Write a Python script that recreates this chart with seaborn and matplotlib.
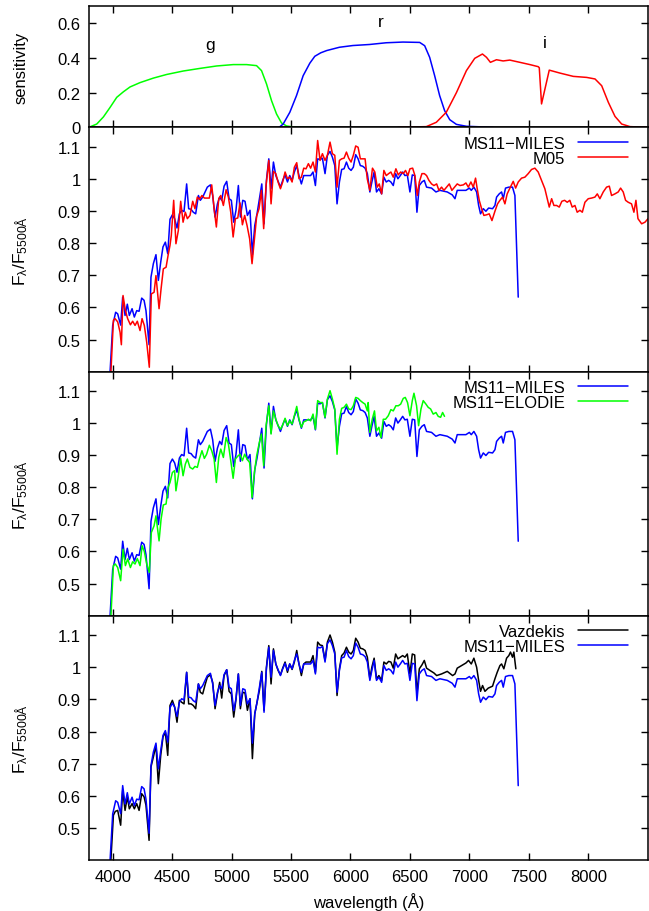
import matplotlib
matplotlib.use("Agg")
import matplotlib.pyplot as plt
import seaborn as sns

# filter curves (top panel)
g_wl = [3800, 3866, 3922, 3978, 4034, 4090, 4146, 4230, 4342, 4454, 4594, 4734, 4874, 5014, 5126,
        5210, 5252, 5294, 5336, 5378, 5420, 5462, 5518, 5700]
g_sens = [0.0, 0.019, 0.06, 0.115, 0.173, 0.205, 0.233, 0.258, 0.284, 0.305, 0.325, 0.34, 0.354, 0.362, 0.362,
          0.356, 0.327, 0.25, 0.154, 0.077, 0.025, 0.008, 0.002, 0.0]
r_wl = [5400, 5434, 5490, 5546, 5602, 5658, 5700, 5750, 5800, 5907, 6020, 6160, 6301, 6441, 6582,
        6624, 6666, 6708, 6750, 6792, 6835, 6891, 6975, 7200]
r_sens = [0.0, 0.019, 0.087, 0.183, 0.298, 0.37, 0.41, 0.43, 0.443, 0.462, 0.472, 0.478, 0.488, 0.492, 0.49,
          0.471, 0.404, 0.298, 0.183, 0.096, 0.044, 0.017, 0.006, 0.0]
i_wl = [6400, 6638, 6722, 6806, 6891, 6975, 7045, 7110, 7144, 7177, 7228, 7284, 7340, 7425, 7509,
        7579, 7588, 7607, 7672, 7762, 7874, 7987, 8057, 8113, 8169, 8225, 8281, 8351, 8500]
i_sens = [0.0, 0.004, 0.029, 0.087, 0.2, 0.327, 0.398, 0.423, 0.404, 0.375, 0.39, 0.383, 0.388, 0.375, 0.362,
          0.35, 0.344, 0.135, 0.33, 0.313, 0.294, 0.288, 0.279, 0.24, 0.144, 0.063, 0.019, 0.004, 0.0]
filter_names = ["g", "r", "i"]
filter_label_pos = [(4817, 0.48), (6254, 0.61), (7637, 0.49)]

# MS11-MILES (appears in all three spectral panels)
miles_wl = [3975, 4000, 4025, 4042, 4067, 4084, 4104, 4123, 4140, 4163,
            4182, 4202, 4222, 4244, 4264, 4280, 4306, 4322, 4342, 4364,
            4384, 4404, 4423, 4443, 4463, 4482, 4502, 4521, 4541, 4561,
            4580, 4600, 4622, 4639, 4659, 4678, 4698, 4721, 4737, 4757,
            4777, 4796, 4822, 4841, 4861, 4881, 4900, 4917, 4937, 4959,
            4979, 4998, 5018, 5037, 5057, 5074, 5094, 5113, 5133, 5155,
            5175, 5195, 5214, 5234, 5254, 5273, 5293, 5313, 5332, 5352,
            5372, 5391, 5411, 5430, 5450, 5470, 5489, 5509, 5528, 5548,
            5567, 5587, 5607, 5626, 5646, 5665, 5685, 5705, 5724, 5744,
            5764, 5786, 5806, 5828, 5848, 5868, 5887, 5907, 5926, 5946,
            5966, 5985, 6005, 6024, 6044, 6064, 6083, 6103, 6123, 6142,
            6163, 6180, 6199, 6219, 6239, 6262, 6281, 6301, 6321, 6340,
            6360, 6380, 6399, 6419, 6439, 6458, 6478, 6500, 6520, 6540,
            6559, 6579, 6601, 6621, 6640, 6682, 6719, 6752, 6814, 6856,
            6879, 6898, 6935, 6971, 7000, 7016, 7038, 7061, 7078, 7094,
            7117, 7139, 7162, 7195, 7215, 7229, 7251, 7271, 7285, 7304,
            7332, 7363, 7383, 7411]
miles_flux = [0.38, 0.544, 0.585, 0.58, 0.545, 0.632, 0.575, 0.61, 0.575, 0.596,
              0.57, 0.59, 0.588, 0.629, 0.622, 0.59, 0.484, 0.694, 0.736, 0.764,
              0.684, 0.741, 0.788, 0.803, 0.767, 0.874, 0.888, 0.876, 0.847, 0.891,
              0.902, 0.898, 0.984, 0.907, 0.905, 0.896, 0.891, 0.948, 0.933, 0.943,
              0.959, 0.974, 0.981, 0.948, 0.881, 0.922, 0.943, 0.933, 0.977, 0.992,
              0.938, 0.933, 0.865, 0.902, 0.979, 0.881, 0.933, 0.93, 0.886, 0.902,
              0.764, 0.855, 0.891, 0.938, 0.984, 0.86, 0.995, 1.062, 0.969, 1.052,
              1.01, 0.992, 0.974, 0.995, 1.012, 0.99, 1.01, 0.995, 1.021, 1.041,
              1.01, 0.984, 1.01, 1.01, 1.01, 1.01, 1.021, 0.979, 1.062, 1.06,
              1.064, 1.016, 1.073, 1.085, 1.067, 1.041, 0.922, 0.99, 1.029, 1.031,
              1.052, 1.033, 1.026, 1.036, 1.075, 1.062, 1.041, 1.039, 1.033, 1.016,
              0.959, 0.99, 1.021, 0.959, 0.969, 0.953, 1.005, 0.99, 0.995, 0.99,
              0.979, 1.016, 1.0, 1.01, 1.021, 1.01, 1.012, 0.959, 1.012, 1.01,
              0.896, 0.979, 0.99, 0.995, 0.974, 0.971, 0.959, 0.964, 0.959, 0.95,
              0.938, 0.964, 0.964, 0.964, 0.971, 0.964, 0.974, 0.959, 0.917, 0.891,
              0.907, 0.899, 0.909, 0.907, 0.917, 0.943, 0.953, 0.959, 0.938, 0.971,
              0.974, 0.974, 0.948, 0.632]

# M05
m05_wl = [3980, 4006, 4020, 4042, 4062, 4073, 4087, 4107, 4126, 4149,
          4168, 4188, 4207, 4230, 4247, 4266, 4286, 4308, 4325, 4348,
          4364, 4390, 4407, 4426, 4449, 4466, 4482, 4493, 4513, 4532,
          4552, 4572, 4592, 4611, 4628, 4650, 4673, 4692, 4712, 4729,
          4751, 4771, 4790, 4813, 4833, 4853, 4872, 4892, 4909, 4931,
          4954, 4973, 4993, 5013, 5032, 5052, 5071, 5091, 5110, 5130,
          5152, 5172, 5192, 5211, 5231, 5251, 5270, 5290, 5313, 5332,
          5352, 5372, 5391, 5411, 5430, 5450, 5470, 5489, 5509, 5528,
          5548, 5567, 5587, 5607, 5626, 5646, 5665, 5685, 5705, 5724,
          5744, 5764, 5786, 5806, 5828, 5848, 5868, 5887, 5907, 5926,
          5946, 5966, 5985, 6005, 6024, 6044, 6064, 6083, 6103, 6123,
          6141, 6163, 6185, 6205, 6225, 6242, 6262, 6281, 6301, 6321,
          6340, 6360, 6382, 6402, 6422, 6444, 6463, 6483, 6500, 6523,
          6542, 6562, 6579, 6601, 6621, 6640, 6660, 6682, 6702, 6725,
          6744, 6766, 6786, 6808, 6831, 6853, 6876, 6898, 6921, 6949,
          6971, 6991, 7013, 7033, 7052, 7066, 7083, 7103, 7122, 7145,
          7167, 7190, 7215, 7237, 7257, 7279, 7299, 7318, 7341, 7369,
          7389, 7411, 7439, 7467, 7495, 7523, 7551, 7579, 7607, 7635,
          7655, 7672, 7692, 7711, 7734, 7756, 7778, 7801, 7823, 7845,
          7865, 7888, 7907, 7930, 7950, 7972, 8000, 8028, 8056, 8076,
          8098, 8126, 8154, 8177, 8196, 8224, 8252, 8272, 8294, 8314,
          8336, 8364, 8384, 8401, 8418, 8449, 8477, 8508]
m05_flux = [0.36, 0.56, 0.565, 0.555, 0.523, 0.484, 0.637, 0.59, 0.565, 0.546,
            0.557, 0.544, 0.557, 0.528, 0.565, 0.544, 0.492, 0.414, 0.642, 0.647,
            0.699, 0.596, 0.658, 0.72, 0.725, 0.762, 0.793, 0.824, 0.933, 0.798,
            0.839, 0.93, 0.865, 0.896, 0.876, 0.886, 0.93, 0.907, 0.943, 0.936,
            0.948, 0.94, 0.94, 0.94, 0.981, 0.907, 0.85, 0.938, 0.948, 0.917,
            0.966, 0.943, 0.896, 0.819, 0.876, 0.878, 0.925, 0.857, 0.886, 0.855,
            0.813, 0.736, 0.813, 0.884, 0.907, 0.964, 0.845, 0.979, 1.057, 0.922,
            1.023, 1.016, 0.99, 0.969, 0.99, 1.021, 1.0, 1.005, 0.99, 1.036,
            1.05, 1.0, 1.005, 1.033, 1.031, 1.047, 1.033, 1.052, 1.021, 1.119,
            1.057, 1.078, 1.057, 1.073, 1.114, 1.078, 1.073, 0.974, 1.057, 1.062,
            1.064, 1.083, 1.064, 1.052, 1.073, 1.102, 1.098, 1.062, 1.062, 1.062,
            1.0, 0.964, 1.033, 1.021, 0.974, 0.984, 0.953, 1.026, 1.01, 1.016,
            1.021, 1.005, 1.031, 1.012, 1.021, 1.016, 1.026, 1.01, 1.031, 1.033,
            1.01, 0.948, 0.99, 1.016, 1.016, 1.01, 0.995, 0.984, 0.979, 0.984,
            0.964, 0.974, 0.964, 0.974, 0.984, 0.964, 0.974, 0.984, 0.979, 0.981,
            0.987, 0.974, 0.99, 0.974, 1.002, 0.969, 0.933, 0.907, 0.886, 0.888,
            0.891, 0.87, 0.899, 0.922, 0.933, 0.943, 0.922, 0.953, 0.971, 0.992,
            0.971, 0.99, 1.002, 1.005, 1.016, 1.029, 1.033, 1.021, 0.995, 0.969,
            0.938, 0.912, 0.938, 0.917, 0.917, 0.912, 0.93, 0.933, 0.927, 0.933,
            0.912, 0.917, 0.896, 0.902, 0.896, 0.927, 0.938, 0.94, 0.943, 0.953,
            0.938, 0.959, 0.974, 0.977, 0.948, 0.953, 0.959, 0.971, 0.959, 0.933,
            0.927, 0.922, 0.896, 0.933, 0.876, 0.86, 0.865, 0.878]

# MS11-ELODIE
elodie_wl = [3980, 4006, 4022, 4042, 4067, 4087, 4107, 4126, 4149, 4168,
             4188, 4207, 4230, 4247, 4266, 4286, 4308, 4325, 4348, 4364,
             4390, 4407, 4426, 4449, 4466, 4482, 4502, 4521, 4532, 4552,
             4572, 4592, 4611, 4628, 4650, 4673, 4692, 4712, 4729, 4751,
             4771, 4790, 4813, 4833, 4853, 4872, 4892, 4909, 4931, 4954,
             4973, 4993, 5013, 5032, 5052, 5071, 5091, 5110, 5130, 5152,
             5172, 5192, 5211, 5231, 5251, 5270, 5290, 5313, 5332, 5352,
             5372, 5391, 5411, 5430, 5450, 5470, 5489, 5509, 5528, 5548,
             5567, 5587, 5607, 5626, 5646, 5665, 5685, 5705, 5724, 5744,
             5764, 5786, 5806, 5828, 5848, 5868, 5887, 5907, 5926, 5946,
             5966, 5985, 6005, 6024, 6044, 6064, 6083, 6103, 6123, 6142,
             6149, 6163, 6183, 6202, 6219, 6239, 6256, 6276, 6295, 6318,
             6340, 6360, 6382, 6402, 6422, 6444, 6461, 6480, 6500, 6520,
             6534, 6556, 6573, 6593, 6612, 6635, 6654, 6674, 6696, 6719,
             6738, 6758, 6775, 6791]
elodie_flux = [0.36, 0.556, 0.561, 0.55, 0.509, 0.607, 0.556, 0.577, 0.55, 0.568,
               0.561, 0.578, 0.556, 0.618, 0.6, 0.561, 0.535, 0.659, 0.68, 0.711,
               0.633, 0.701, 0.745, 0.748, 0.8, 0.815, 0.846, 0.852, 0.789, 0.836,
               0.89, 0.836, 0.872, 0.888, 0.862, 0.857, 0.865, 0.862, 0.888, 0.914,
               0.89, 0.903, 0.931, 0.914, 0.888, 0.815, 0.893, 0.919, 0.893, 0.955,
               0.935, 0.883, 0.828, 0.888, 0.897, 0.903, 0.883, 0.903, 0.888, 0.877,
               0.768, 0.846, 0.898, 0.935, 0.966, 0.867, 0.992, 1.054, 0.966, 1.038,
               1.012, 0.992, 0.981, 0.994, 1.015, 0.992, 1.007, 0.997, 1.023, 1.052,
               1.012, 0.987, 1.004, 1.007, 1.012, 1.007, 1.028, 0.981, 1.07, 1.064,
               1.064, 1.018, 1.075, 1.101, 1.075, 1.044, 0.903, 1.012, 1.046, 1.049,
               1.059, 1.044, 1.042, 1.054, 1.08, 1.077, 1.07, 1.064, 1.059, 1.038,
               1.064, 0.971, 1.012, 1.038, 0.976, 0.987, 0.955, 1.012, 1.012, 1.023,
               1.042, 1.038, 1.054, 1.054, 1.059, 1.077, 1.08, 1.064, 1.023, 1.07,
               1.093, 1.054, 0.992, 1.044, 1.07, 1.059, 1.049, 1.044, 1.028, 1.033,
               1.021, 1.018, 1.033, 1.021]

# Vazdekis
vaz_wl = [3980, 4006, 4022, 4042, 4067, 4084, 4104, 4123, 4140, 4163,
          4182, 4202, 4222, 4244, 4264, 4280, 4306, 4322, 4342, 4364,
          4384, 4404, 4423, 4443, 4463, 4482, 4502, 4521, 4541, 4561,
          4580, 4600, 4622, 4639, 4659, 4678, 4698, 4721, 4737, 4757,
          4777, 4796, 4822, 4841, 4861, 4881, 4900, 4917, 4937, 4959,
          4979, 4998, 5018, 5037, 5057, 5074, 5094, 5113, 5133, 5155,
          5175, 5195, 5214, 5234, 5254, 5273, 5293, 5313, 5332, 5352,
          5372, 5391, 5411, 5430, 5450, 5470, 5489, 5509, 5528, 5548,
          5567, 5587, 5607, 5626, 5646, 5665, 5685, 5705, 5724, 5744,
          5764, 5786, 5806, 5828, 5848, 5868, 5887, 5907, 5926, 5946,
          5966, 5985, 6005, 6024, 6044, 6064, 6083, 6103, 6123, 6142,
          6163, 6180, 6199, 6219, 6239, 6262, 6281, 6301, 6321, 6340,
          6360, 6380, 6399, 6419, 6439, 6458, 6478, 6500, 6520, 6540,
          6559, 6579, 6601, 6621, 6640, 6668, 6702, 6725, 6766, 6814,
          6859, 6879, 6898, 6935, 6971, 6993, 7016, 7038, 7061, 7078,
          7094, 7111, 7131, 7159, 7195, 7215, 7234, 7257, 7271, 7290,
          7313, 7332, 7346, 7363, 7374, 7391]
vaz_flux = [0.37, 0.54, 0.552, 0.555, 0.509, 0.617, 0.555, 0.597, 0.56, 0.576,
            0.56, 0.576, 0.555, 0.607, 0.597, 0.571, 0.462, 0.69, 0.721, 0.757,
            0.638, 0.726, 0.783, 0.798, 0.726, 0.881, 0.897, 0.876, 0.829, 0.897,
            0.891, 0.886, 0.984, 0.886, 0.886, 0.881, 0.871, 0.948, 0.922, 0.917,
            0.945, 0.969, 0.976, 0.953, 0.871, 0.917, 0.953, 0.904, 0.974, 0.992,
            0.925, 0.917, 0.845, 0.9, 0.979, 0.871, 0.922, 0.92, 0.866, 0.902,
            0.716, 0.855, 0.891, 0.928, 0.987, 0.866, 1.0, 1.067, 0.948, 1.057,
            1.01, 0.99, 0.976, 0.997, 1.016, 0.984, 1.01, 0.993, 1.016, 1.052,
            1.01, 0.974, 1.01, 1.016, 1.016, 1.016, 1.036, 0.984, 1.078, 1.069,
            1.067, 1.021, 1.078, 1.1, 1.078, 1.047, 0.912, 0.995, 1.036, 1.044,
            1.062, 1.047, 1.041, 1.052, 1.09, 1.078, 1.059, 1.057, 1.052, 1.031,
            0.964, 1.0, 1.028, 0.964, 0.974, 0.959, 1.016, 1.01, 1.018, 1.016,
            0.997, 1.041, 1.026, 1.031, 1.036, 1.031, 1.041, 0.979, 1.041, 1.038,
            0.917, 0.995, 1.007, 1.021, 0.997, 0.99, 0.982, 0.974, 0.979, 0.987,
            0.974, 0.979, 0.997, 1.005, 1.013, 1.021, 1.01, 1.028, 1.0, 0.959,
            0.925, 0.943, 0.925, 0.935, 0.941, 0.964, 0.984, 1.005, 1.01, 0.995,
            1.028, 1.036, 1.047, 1.031, 1.047, 0.995]

MINUS = "\u2212"
ylab = r"F$_{\lambda}$/F$_{5500\mathrm{Å}}$"

sns.set_style("ticks")
plt.rcParams["font.family"] = ["Liberation Sans", "DejaVu Sans"]
plt.rcParams["font.size"] = 12
plt.rcParams["text.color"] = "black"
plt.rcParams["axes.labelcolor"] = "black"
plt.rcParams["mathtext.fontset"] = "custom"
plt.rcParams["mathtext.rm"] = "Liberation Sans"
plt.rcParams["mathtext.it"] = "Liberation Sans"
plt.rcParams["mathtext.bf"] = "Liberation Sans:bold"

fig = plt.figure(figsize=(6.49, 9.12), dpi=100)
left, width = 0.137, 0.861
ax_f = fig.add_axes([left, 0.8593, width, 0.133])
ax1 = fig.add_axes([left, 0.5913, width, 0.268])
ax2 = fig.add_axes([left, 0.3238, width, 0.2675])
ax3 = fig.add_axes([left, 0.0556, width, 0.2682])


def style(ax):
    ax.set_xlim(3800, 8500)
    ax.set_xticks(range(4000, 8001, 500))
    ax.tick_params(direction="in", length=5, width=1, top=True, right=True,
                   labelsize=12, pad=6, colors="black")
    for s in ax.spines.values():
        s.set_linewidth(1.1)
        s.set_color("black")
    ax.set_xlabel("")
    ax.set_ylabel("")


# top panel: filter sensitivity
sns.lineplot(x=g_wl, y=g_sens, ax=ax_f, color="#00ff00", lw=1.1, estimator=None, sort=False)
sns.lineplot(x=r_wl, y=r_sens, ax=ax_f, color="#0000ff", lw=1.1, estimator=None, sort=False)
sns.lineplot(x=i_wl, y=i_sens, ax=ax_f, color="#ff0000", lw=1.1, estimator=None, sort=False)
for name, (xx, yy) in zip(filter_names, filter_label_pos):
    ax_f.text(xx, yy, name, ha="center", va="center", fontsize=12.5)
style(ax_f)
ax_f.set_ylim(0, 0.7)
ax_f.set_yticks([0, 0.2, 0.4, 0.6], ["0", "0.2", "0.4", "0.6"])
ax_f.tick_params(labelbottom=False)
ax_f.set_ylabel("sensitivity")
ax_f.yaxis.set_label_coords(-0.108, 0.5)

panels = [
    (ax1, [(miles_wl, miles_flux, "#0000ff", "MS11" + MINUS + "MILES"),
           (m05_wl, m05_flux, "#ff0000", "M05")]),
    (ax2, [(miles_wl, miles_flux, "#0000ff", "MS11" + MINUS + "MILES"),
           (elodie_wl, elodie_flux, "#00ff00", "MS11" + MINUS + "ELODIE")]),
    (ax3, [(vaz_wl, vaz_flux, "#000000", "Vazdekis"),
           (miles_wl, miles_flux, "#0000ff", "MS11" + MINUS + "MILES")]),
]

yt = [0.5, 0.6, 0.7, 0.8, 0.9, 1.0, 1.1]
ytl = ["0.5", "0.6", "0.7", "0.8", "0.9", "1", "1.1"]
for ax, series in panels:
    for wl, fl, col, lab in series:
        sns.lineplot(x=wl, y=fl, ax=ax, color=col, lw=1.1, label=lab,
                     estimator=None, sort=False)
    style(ax)
    ax.set_ylim(0.4, 1.16)
    ax.set_yticks(yt, ytl)
    ax.set_ylabel(ylab, fontsize=12.5)
    ax.yaxis.set_label_coords(-0.105, 0.5)
    ax.legend(loc="upper right", bbox_to_anchor=(0.964, 0.965), frameon=False,
              markerfirst=False, handlelength=3.0, handletextpad=0.75,
              labelspacing=0.0, borderpad=0, borderaxespad=0, fontsize=12)
    if ax is not ax3:
        ax.tick_params(labelbottom=False)

ax3.set_xlabel("wavelength (Å)")
ax3.xaxis.set_label_coords(0.5, -0.13)

fig.savefig("out.png", dpi=100)
